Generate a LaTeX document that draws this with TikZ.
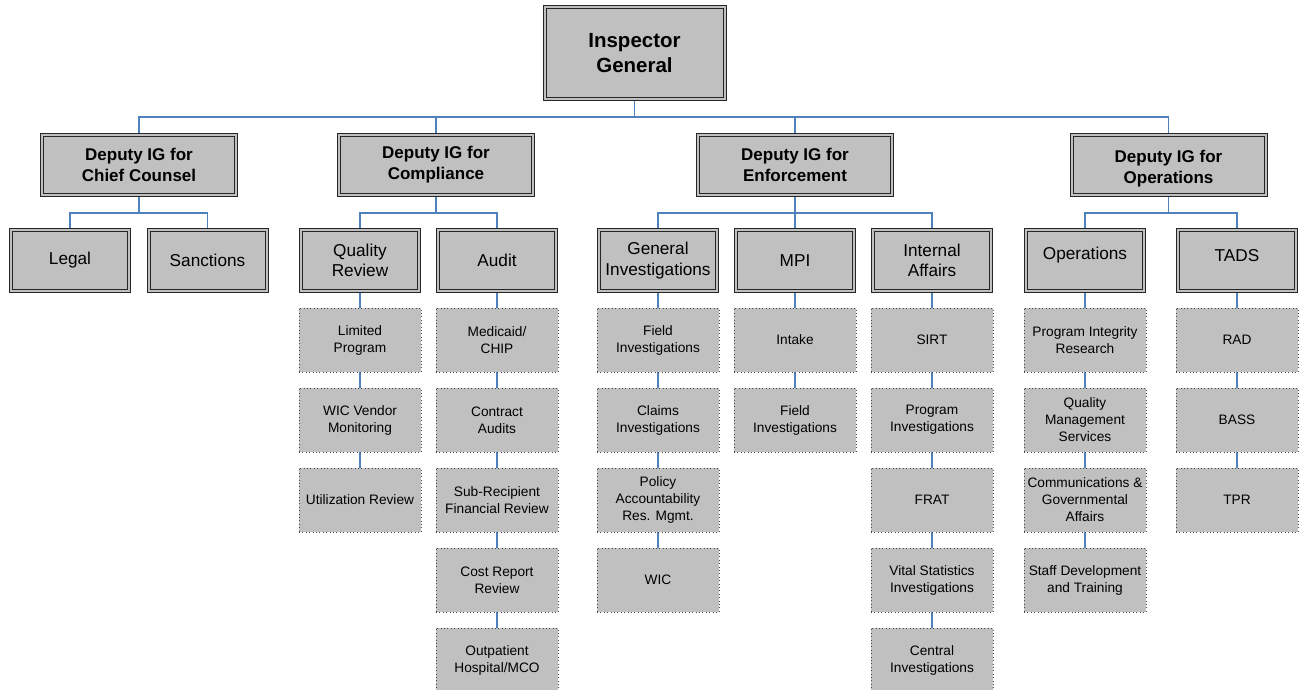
\documentclass[tikz,border=0pt]{standalone}
\usepackage{fontspec}
\setmainfont{Liberation Sans}
\usetikzlibrary{backgrounds}
\definecolor{boxgray}{RGB}{192,192,192}
\definecolor{connblue}{RGB}{79,129,189}
\definecolor{dotgray}{RGB}{70,70,70}
\tikzset{
  dbl/.style={fill=boxgray, draw=black!85, line width=1pt, double=boxgray, double distance=2pt, inner sep=0pt, align=center},
  igbox/.style={dbl, minimum width=180pt, minimum height=92pt, font=\fontsize{20.5}{25}\selectfont\bfseries},
  depfont/.style={font=\fontsize{17}{21}\selectfont\bfseries},
  depbox/.style={dbl, depfont, minimum width=194pt, minimum height=60pt},
  hdrfont/.style={font=\fontsize{17.2}{20.5}\selectfont},
  hdrbox/.style={dbl, hdrfont, minimum width=118pt, minimum height=61pt},
  subbox/.style={fill=boxgray, draw=dotgray, line width=0.8pt, dash pattern=on 0.8pt off 2.6pt, inner sep=0pt, align=center, minimum width=122pt, minimum height=64pt, font=\fontsize{13.7}{17}\selectfont},
  conn/.style={draw=connblue, line width=1.2pt}
}
\begin{document}
\begin{tikzpicture}[x=1pt,y=-1pt]
\useasboundingbox (0,0) rectangle (1299,690);
\coordinate (bus1) at (0,117);
\coordinate (bus2) at (0,213);
% top
\node[igbox] (ig) at (634.5,53.5) {Inspector\\General};
% deputies
\node[depbox] (dcc) at (139,165) {Deputy IG for\\Chief Counsel};
\node[depbox] (dco) at (436,165) {Deputy IG for\\Compliance};
\node[depbox] (den) at (795,165) {Deputy IG for\\Enforcement};
\node[depbox, label={[depfont, align=center, yshift=-4pt]center:Deputy IG for\\Operations}] (dop) at (1168.5,165) {};
% headers
\node[hdrbox] (legal) at (70,260.5) {Legal};
\node[hdrbox] (sanc) at (207.5,260.5) {Sanctions};
\node[hdrbox] (qr) at (360,260.5) {Quality\\Review};
\node[hdrbox] (audit) at (497,260.5) {Audit};
\node[hdrbox] (gi) at (658,260.5) {General\\Investigations};
\node[hdrbox] (mpi) at (795,260.5) {MPI};
\node[hdrbox] (ia) at (932,260.5) {Internal\\Affairs};
\node[hdrbox, label={[hdrfont, yshift=5pt]center:Operations}] (ops) at (1085,260.5) {};
\node[hdrbox, label={[hdrfont, yshift=5pt]center:TADS}] (tads) at (1237,260.5) {};
% Quality Review column
\node[subbox] (qr1) at (360,340) {Limited\\Program};
\node[subbox] (qr2) at (360,420) {WIC Vendor\\Monitoring};
\node[subbox] (qr3) at (360,500) {Utilization Review};
% Audit column
\node[subbox] (au1) at (497,340) {Medicaid/\\CHIP};
\node[subbox] (au2) at (497,420) {Contract\\Audits};
\node[subbox] (au3) at (497,500) {Sub-Recipient\\Financial Review};
\node[subbox] (au4) at (497,580) {Cost Report\\Review};
\node[subbox] (au5) at (497,660) {Outpatient\\Hospital/MCO};
% General Investigations column
\node[subbox] (gi1) at (658,340) {Field\\Investigations};
\node[subbox] (gi2) at (658,420) {Claims\\Investigations};
\node[subbox] (gi3) at (658,500) {Policy\\Accountability\\Res. Mgmt.};
\node[subbox] (gi4) at (658,580) {WIC};
% MPI column
\node[subbox] (mp1) at (795,340) {Intake};
\node[subbox] (mp2) at (795,420) {Field\\Investigations};
% Internal Affairs column
\node[subbox] (ia1) at (932,340) {SIRT};
\node[subbox] (ia2) at (932,420) {Program\\Investigations};
\node[subbox] (ia3) at (932,500) {FRAT};
\node[subbox] (ia4) at (932,580) {Vital Statistics\\Investigations};
\node[subbox] (ia5) at (932,660) {Central\\Investigations};
% Operations column
\node[subbox] (op1) at (1085,340) {Program Integrity\\Research};
\node[subbox] (op2) at (1085,420) {Quality\\Management\\Services};
\node[subbox] (op3) at (1085,500) {Communications \&\\Governmental\\Affairs};
\node[subbox] (op4) at (1085,580) {Staff Development\\and Training};
% TADS column
\node[subbox] (td1) at (1237,340) {RAD};
\node[subbox] (td2) at (1237,420) {BASS};
\node[subbox] (td3) at (1237,500) {TPR};
% connectors
\begin{scope}[on background layer]
\foreach \d in {dcc,dco,den,dop}
  \draw[conn] (ig.south) -- (ig.south |- bus1) -| (\d.north);
\foreach \p/\c in {dcc/legal,dcc/sanc,dco/qr,dco/audit,den/gi,den/mpi,den/ia,dop/ops,dop/tads}
  \draw[conn] (\p.south) -- (\p.south |- bus2) -| (\c.north);
\foreach \a/\b in {qr/qr1,qr1/qr2,qr2/qr3,
                   audit/au1,au1/au2,au2/au3,au3/au4,au4/au5,
                   gi/gi1,gi1/gi2,gi2/gi3,gi3/gi4,
                   mpi/mp1,mp1/mp2,
                   ia/ia1,ia1/ia2,ia2/ia3,ia3/ia4,ia4/ia5,
                   ops/op1,op1/op2,op2/op3,op3/op4,
                   tads/td1,td1/td2,td2/td3}
  \draw[conn] (\a.south) -- (\b.north);
\end{scope}
\end{tikzpicture}
\end{document}
